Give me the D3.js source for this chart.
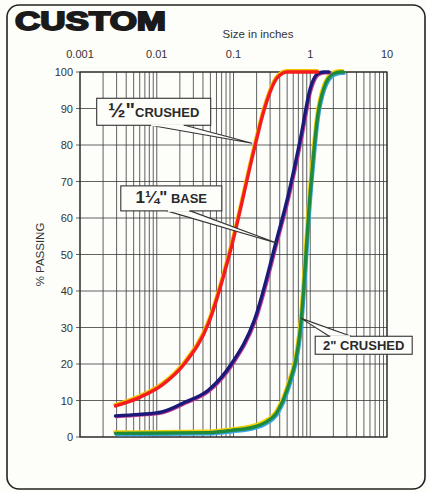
<!DOCTYPE html>
<html>
<head>
<meta charset="utf-8">
<script src="https://cdn.jsdelivr.net/npm/d3@7"></script>
<style>
  html, body { margin: 0; padding: 0; background: #fdfdfa; }
  svg { display: block; }
  .grid line { stroke: #3a3a3a; stroke-width: 0.8; }
  .frame { fill: none; stroke: #2a2a2a; stroke-width: 1.2; }
  .tick-label { font-family: "Liberation Sans", Arial, sans-serif; font-size: 11px; fill: #333; }
  .axis-title { font-family: "Liberation Sans", Arial, sans-serif; font-size: 11.5px; fill: #333; }
  .callout { fill: #fdfdfa; stroke: #333; stroke-width: 1.1; }
  .callout-text { font-family: "Liberation Sans", Arial, sans-serif; font-weight: bold; fill: #2a2a2a; }
</style>
</head>
<body>
<div id="chart"></div>
<script>
// Sieve sizes in inches (x) and % passing for each gradation
const sizesHalf = [0.0029, 0.0059, 0.0117, 0.0232, 0.0469, 0.0937, 0.187, 0.25, 0.375, 0.5, 1.25];
const halfCrushed = [8.5, 10.8, 14.2, 20.2, 31, 52, 79, 89.5, 98.5, 100, 100];

const sizesBase = [0.0029, 0.0059, 0.0117, 0.0232, 0.0469, 0.0937, 0.187, 0.375, 0.5, 0.75, 1.0, 1.25, 1.5, 1.75];
const baseQuarter = [5.8, 6.2, 6.9, 9.5, 12.8, 20, 32, 55, 65, 82, 95.5, 99.5, 100, 100];

const sizesTwo = [0.0029, 0.0469, 0.0937, 0.187, 0.25, 0.375, 0.5, 0.75, 1.0, 1.25, 1.5, 2.0, 2.5, 2.7];
const twoCrushed = [1.0, 1.2, 1.8, 2.8, 3.8, 7, 13, 30.5, 67, 88, 95.5, 99.5, 100, 100];

const xTickValues = [0.001, 0.01, 0.1, 1, 10];
const xTickLabels = ['0.001', '0.01', '0.1', '1', '10'];
const yTicks = [0, 10, 20, 30, 40, 50, 60, 70, 80, 90, 100];

// Callouts: anchor point on curve (size, pct), box top-left (size, pct)
const callouts = [
  { parts: [['½', 21], ['"', 20], ['CRUSHED', 13]], anchor: [0.175, 80.5], box: [0.00165, 92.8], w: 114, h: 27, baseW: [0.0082, 0.0231], side: 'bottom' },
  { parts: [['1', 17], ['¼', 17], ['"', 17], [' BASE', 13]], anchor: [0.38, 53], box: [0.0034, 68.8], w: 101, h: 25, baseW: [0.0135, 0.0273], side: 'bottom' },
  { parts: [['2" CRUSHED', 13]], anchor: [0.76, 32.5], box: [1.16, 27.6], w: 97, h: 18, baseW: [1.77, 3.4], side: 'top' }
];

const W = 427, H = 492;
const m = { left: 80, right: 40, top: 72, bottom: 55 };

const svg = d3.select('#chart').append('svg')
  .attr('width', W).attr('height', H).attr('viewBox', `0 0 ${W} ${H}`);

// Card border
svg.append('rect')
  .attr('x', 7).attr('y', 5).attr('width', 418).attr('height', 484)
  .attr('rx', 12).attr('fill', '#fdfdfa').attr('stroke', '#222').attr('stroke-width', 1.6);

// Title
svg.append('text')
  .attr('x', 15).attr('y', 30)
  .attr('textLength', 151).attr('lengthAdjust', 'spacingAndGlyphs')
  .style('font-family', '"Liberation Sans", Arial, sans-serif')
  .style('font-weight', 'bold').style('font-size', '25px')
  .style('fill', '#1a1a1a').style('stroke', '#1a1a1a').style('stroke-width', 1.8)
  .text('CUSTOM');

const x = d3.scaleLog().domain([0.001, 10]).range([m.left, W - m.right]);
const y = d3.scaleLinear().domain([0, 100]).range([H - m.bottom, m.top]);

// Grid
const grid = svg.append('g').attr('class', 'grid');
grid.selectAll('line.v').data(x.ticks()).join('line')
  .attr('class', 'v')
  .attr('x1', d => x(d)).attr('x2', d => x(d))
  .attr('y1', y(100)).attr('y2', y(0));
grid.selectAll('line.h').data(yTicks).join('line')
  .attr('class', 'h')
  .attr('x1', x(0.001) - 4).attr('x2', x(10))
  .attr('y1', d => y(d)).attr('y2', d => y(d));

svg.append('rect').attr('class', 'frame')
  .attr('x', x(0.001)).attr('y', y(100))
  .attr('width', x(10) - x(0.001)).attr('height', y(0) - y(100));

// Axis labels
svg.selectAll('text.xl').data(xTickValues).join('text')
  .attr('class', 'tick-label xl')
  .attr('x', d => x(d)).attr('y', 58)
  .attr('text-anchor', 'middle')
  .text((d, i) => xTickLabels[i]);

svg.selectAll('text.yl').data(yTicks).join('text')
  .attr('class', 'tick-label yl')
  .attr('x', x(0.001) - 7).attr('y', d => y(d) + 4)
  .attr('text-anchor', 'end')
  .text(d => d);

svg.append('text').attr('class', 'axis-title')
  .attr('x', 258).attr('y', 38).attr('text-anchor', 'middle')
  .text('Size in inches');

svg.append('text').attr('class', 'axis-title')
  .attr('transform', `translate(44,${y(50)}) rotate(-90)`)
  .attr('text-anchor', 'middle')
  .text('% PASSING');

// Curves
const line = d3.line()
  .x(d => x(d[0])).y(d => y(d[1]))
  .curve(d3.curveMonotoneX);

const zip = (xs, ys) => xs.map((v, i) => [v, ys[i]]);

const curves = [
  { pts: zip(sizesTwo, twoCrushed), color: '#1f8a3c', under: [['#f2d000', -0.8, -1.4], ['#39a6e8', 0.8, 1.4]] },
  { pts: zip(sizesBase, baseQuarter), color: '#1b1a78', under: [['#c03a9a', 1.0, 0.8]] },
  { pts: zip(sizesHalf, halfCrushed), color: '#f41c1c', under: [['#f2c200', -0.6, -1.4]] }
];

const cg = svg.append('g').attr('class', 'curves');
curves.forEach(c => {
  c.under.forEach(([col, dx, dy]) => {
    cg.append('path').datum(c.pts)
      .attr('d', line)
      .attr('transform', `translate(${dx},${dy})`)
      .attr('fill', 'none').attr('stroke', col)
      .attr('stroke-width', 3.2).attr('stroke-linecap', 'round');
  });
  cg.append('path').datum(c.pts)
    .attr('d', line)
    .attr('fill', 'none').attr('stroke', c.color)
    .attr('stroke-width', 3.4).attr('stroke-linecap', 'round');
});

// Callouts
const ag = svg.append('g').attr('class', 'callouts');
callouts.forEach(c => {
  const bx = x(c.box[0]), by = y(c.box[1]);
  const ax = x(c.anchor[0]), ay = y(c.anchor[1]);
  const edgeY = c.side === 'bottom' ? by + c.h : by;
  ag.append('polygon')
    .attr('class', 'callout')
    .attr('points', `${x(c.baseW[0])},${edgeY} ${ax},${ay} ${x(c.baseW[1])},${edgeY}`);
  ag.append('rect')
    .attr('class', 'callout')
    .attr('x', bx).attr('y', by).attr('width', c.w).attr('height', c.h);
  // hide the wedge base seam
  ag.append('line')
    .attr('x1', x(c.baseW[0]) + 1).attr('x2', x(c.baseW[1]) - 1)
    .attr('y1', edgeY).attr('y2', edgeY)
    .attr('stroke', '#fdfdfa').attr('stroke-width', 2);
  const t = ag.append('text').attr('class', 'callout-text')
    .attr('x', bx + c.w / 2).attr('y', by + c.h / 2 + 5)
    .attr('text-anchor', 'middle');
  c.parts.forEach(([s, fs]) => t.append('tspan').style('font-size', fs + 'px').text(s));
});
</script>
</body>
</html>
